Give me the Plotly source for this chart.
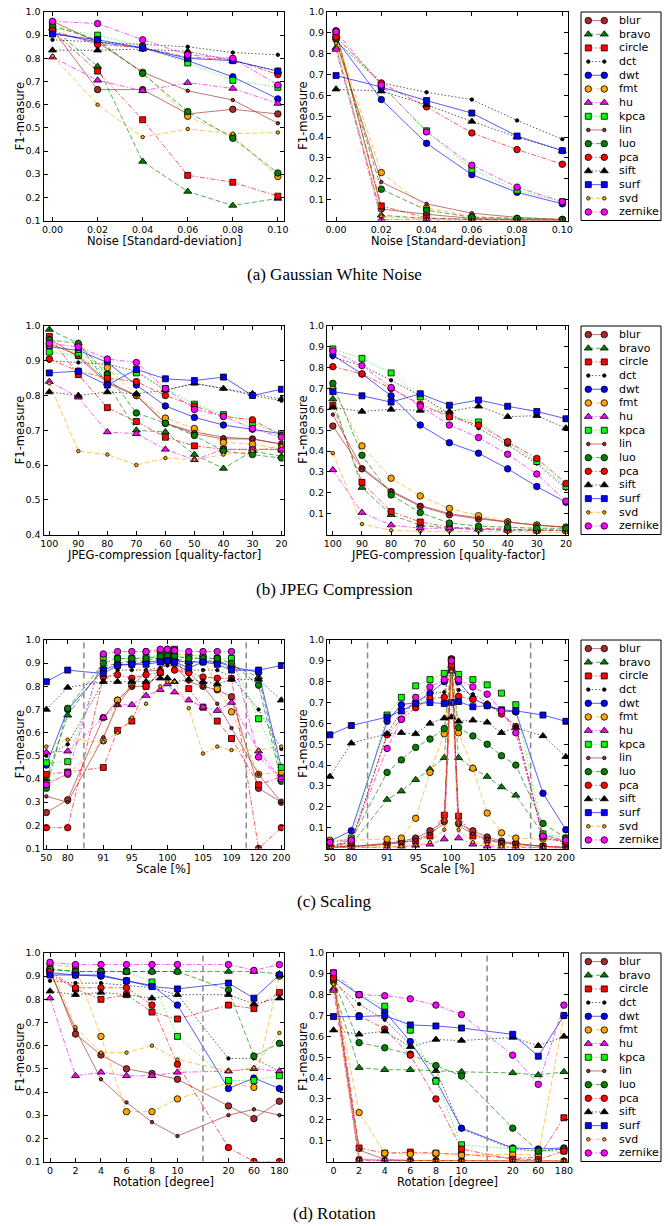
import numpy as np
import plotly.graph_objects as go

W, H = 668, 1226

METHODS = ["blur", "bravo", "circle", "dct", "dwt", "fmt", "hu", "kpca",
           "lin", "luo", "pca", "sift", "surf", "svd", "zernike"]

# ---------------- data ----------------
noise_x = [0.00, 0.02, 0.04, 0.06, 0.08, 0.10]
noise_ticks = [0.00, 0.02, 0.04, 0.06, 0.08, 0.10]

noise_left = {
    "blur":    [0.925, 0.665, 0.665, 0.56, 0.58, 0.56],
    "bravo":   [0.93, 0.765, 0.355, 0.225, 0.165, 0.195],
    "circle":  [0.915, 0.745, 0.535, 0.295, 0.265, 0.205],
    "dct":     [0.88, 0.87, 0.86, 0.85, 0.825, 0.815],
    "dwt":     [0.91, 0.87, 0.845, 0.79, 0.72, 0.625],
    "fmt":     [0.95, 0.87, 0.74, 0.55, 0.465, 0.29],
    "hu":      [0.805, 0.705, 0.66, 0.695, 0.67, 0.605],
    "kpca":    [0.93, 0.90, 0.85, 0.78, 0.705, 0.675],
    "lin":     [0.96, 0.87, 0.74, 0.66, 0.62, 0.52],
    "luo":     [0.94, 0.88, 0.735, 0.57, 0.455, 0.305],
    "pca":     [0.92, 0.86, 0.845, 0.805, 0.795, 0.73],
    "sift":    [0.835, 0.835, 0.84, 0.83, 0.79, 0.745],
    "surf":    [0.905, 0.88, 0.845, 0.80, 0.79, 0.745],
    "svd":     [0.81, 0.60, 0.46, 0.495, 0.475, 0.48],
    "zernike": [0.96, 0.95, 0.88, 0.815, 0.80, 0.685],
}
noise_right = {
    "blur":    [0.91, 0.055, 0.03, 0.01, 0.005, 0.003],
    "bravo":   [0.83, 0.025, 0.01, 0.005, 0.002, 0.0],
    "circle":  [0.905, 0.07, 0.012, 0.005, 0.002, 0.0],
    "dct":     [0.86, 0.66, 0.615, 0.58, 0.48, 0.39],
    "dwt":     [0.87, 0.58, 0.37, 0.22, 0.135, 0.08],
    "fmt":     [0.88, 0.23, 0.06, 0.02, 0.01, 0.005],
    "hu":      [0.82, 0.005, 0.002, 0.0, 0.0, 0.0],
    "kpca":    [0.89, 0.65, 0.43, 0.245, 0.145, 0.09],
    "lin":     [0.86, 0.185, 0.08, 0.035, 0.015, 0.005],
    "luo":     [0.87, 0.15, 0.05, 0.015, 0.01, 0.005],
    "pca":     [0.88, 0.66, 0.545, 0.42, 0.34, 0.27],
    "sift":    [0.63, 0.62, 0.555, 0.475, 0.40, 0.335],
    "surf":    [0.695, 0.64, 0.575, 0.515, 0.405, 0.335],
    "svd":     [0.85, 0.02, 0.005, 0.0, 0.0, 0.0],
    "zernike": [0.905, 0.65, 0.425, 0.265, 0.16, 0.09],
}

jpeg_x = [100, 90, 80, 70, 60, 50, 40, 30, 20]
jpeg_ticks = [100, 90, 80, 70, 60, 50, 40, 30, 20]

jpeg_left = {
    "blur":    [0.95, 0.915, 0.84, 0.80, 0.72, 0.69, 0.675, 0.675, 0.66],
    "bravo":   [0.99, 0.95, 0.835, 0.70, 0.695, 0.63, 0.59, 0.64, 0.625],
    "circle":  [0.97, 0.86, 0.765, 0.725, 0.68, 0.655, 0.645, 0.645, 0.645],
    "dct":     [0.90, 0.895, 0.89, 0.87, 0.815, 0.835, 0.82, 0.80, 0.785],
    "dwt":     [0.94, 0.93, 0.895, 0.83, 0.77, 0.737, 0.715, 0.703, 0.69],
    "fmt":     [0.945, 0.92, 0.88, 0.80, 0.735, 0.705, 0.665, 0.66, 0.645],
    "hu":      [0.84, 0.795, 0.695, 0.69, 0.645, 0.615, 0.645, 0.645, 0.645],
    "kpca":    [0.925, 0.915, 0.86, 0.865, 0.82, 0.775, 0.745, 0.72, 0.69],
    "lin":     [0.965, 0.91, 0.835, 0.80, 0.72, 0.695, 0.68, 0.675, 0.66],
    "luo":     [0.96, 0.95, 0.86, 0.75, 0.72, 0.685, 0.64, 0.63, 0.62],
    "pca":     [0.905, 0.87, 0.85, 0.84, 0.80, 0.77, 0.74, 0.73, 0.685],
    "sift":    [0.81, 0.80, 0.81, 0.805, 0.815, 0.835, 0.82, 0.805, 0.79],
    "surf":    [0.865, 0.87, 0.83, 0.875, 0.848, 0.843, 0.853, 0.80, 0.818],
    "svd":     [0.835, 0.64, 0.63, 0.60, 0.62, 0.615, 0.63, 0.64, 0.655],
    "zernike": [0.95, 0.94, 0.905, 0.895, 0.82, 0.76, 0.74, 0.705, 0.68],
}
jpeg_right = {
    "blur":    [0.52, 0.315, 0.205, 0.135, 0.095, 0.075, 0.06, 0.045, 0.035],
    "bravo":   [0.65, 0.225, 0.095, 0.045, 0.03, 0.025, 0.02, 0.02, 0.02],
    "circle":  [0.62, 0.25, 0.11, 0.06, 0.035, 0.03, 0.025, 0.02, 0.02],
    "dct":     [0.85, 0.81, 0.74, 0.665, 0.58, 0.51, 0.43, 0.34, 0.22],
    "dwt":     [0.86, 0.77, 0.665, 0.525, 0.44, 0.39, 0.315, 0.23, 0.155],
    "fmt":     [0.70, 0.425, 0.27, 0.185, 0.125, 0.09, 0.06, 0.045, 0.035],
    "hu":      [0.31, 0.105, 0.045, 0.03, 0.03, 0.025, 0.025, 0.025, 0.02],
    "kpca":    [0.89, 0.845, 0.775, 0.66, 0.565, 0.54, 0.44, 0.35, 0.23],
    "lin":     [0.575, 0.32, 0.21, 0.14, 0.10, 0.08, 0.06, 0.045, 0.035],
    "luo":     [0.725, 0.38, 0.19, 0.105, 0.055, 0.04, 0.035, 0.03, 0.03],
    "pca":     [0.805, 0.77, 0.70, 0.625, 0.565, 0.525, 0.445, 0.365, 0.245],
    "sift":    [0.61, 0.59, 0.60, 0.595, 0.59, 0.615, 0.565, 0.57, 0.51],
    "surf":    [0.685, 0.665, 0.635, 0.675, 0.62, 0.645, 0.615, 0.59, 0.555],
    "svd":     [0.39, 0.05, 0.02, 0.015, 0.015, 0.015, 0.012, 0.012, 0.01],
    "zernike": [0.88, 0.81, 0.705, 0.615, 0.525, 0.465, 0.385, 0.29, 0.16],
}

scale_x = [50, 80, 91, 93, 95, 97, 99, 100, 101, 103, 105, 107, 109, 120, 200]
scale_ticks = [50, 80, 91, 95, 100, 105, 109, 120, 200]
scale_marks = [85, 115]

scale_left = {
    "blur":    [0.255, 0.31, 0.665, 0.74, 0.80, 0.80, 0.86, 0.96, 0.90, 0.86, 0.80, 0.785, 0.755, 0.36, 0.30],
    "bravo":   [0.40, 0.675, 0.885, 0.90, 0.91, 0.91, 0.925, 0.925, 0.92, 0.905, 0.91, 0.91, 0.89, 0.84, 0.42],
    "circle":  [0.42, 0.43, 0.45, 0.61, 0.65, 0.80, 0.86, 0.94, 0.96, 0.79, 0.71, 0.65, 0.575, 0.375, 0.41],
    "dct":     [0.50, 0.55, 0.82, 0.87, 0.87, 0.87, 0.88, 0.89, 0.89, 0.87, 0.87, 0.87, 0.84, 0.70, 0.53],
    "dwt":     [0.46, 0.70, 0.87, 0.895, 0.895, 0.905, 0.91, 0.915, 0.91, 0.905, 0.905, 0.905, 0.885, 0.86, 0.45],
    "fmt":     [0.38, 0.42, 0.565, 0.74, 0.81, 0.95, 0.95, 0.95, 0.94, 0.935, 0.93, 0.79, 0.69, 0.42, 0.43],
    "hu":      [0.515, 0.52, 0.665, 0.72, 0.72, 0.76, 0.785, 0.81, 0.775, 0.74, 0.71, 0.695, 0.73, 0.52, 0.40],
    "kpca":    [0.47, 0.475, 0.925, 0.92, 0.92, 0.925, 0.935, 0.935, 0.93, 0.925, 0.925, 0.92, 0.92, 0.66, 0.45],
    "lin":     [0.325, 0.30, 0.58, 0.72, 0.80, 0.865, 0.87, 0.92, 0.89, 0.82, 0.80, 0.725, 0.62, 0.42, 0.30],
    "luo":     [0.36, 0.705, 0.90, 0.92, 0.92, 0.92, 0.93, 0.93, 0.93, 0.92, 0.92, 0.92, 0.90, 0.805, 0.39],
    "pca":     [0.19, 0.19, 0.84, 0.85, 0.835, 0.85, 0.86, 0.91, 0.87, 0.86, 0.84, 0.835, 0.835, 0.10, 0.19],
    "sift":    [0.70, 0.795, 0.82, 0.82, 0.82, 0.82, 0.835, 0.835, 0.82, 0.83, 0.82, 0.81, 0.83, 0.83, 0.74],
    "surf":    [0.82, 0.87, 0.855, 0.89, 0.895, 0.895, 0.905, 0.91, 0.905, 0.88, 0.905, 0.895, 0.87, 0.87, 0.89],
    "svd":     [0.54, 0.57, 0.56, 0.60, 0.665, 0.725, 0.80, 0.82, 0.82, 0.705, 0.51, 0.54, 0.525, 0.525, 0.54],
    "zernike": [0.375, 0.425, 0.94, 0.95, 0.95, 0.95, 0.96, 0.96, 0.955, 0.95, 0.95, 0.95, 0.95, 0.495, 0.40],
}
scale_right = {
    "blur":    [0.005, 0.01, 0.025, 0.035, 0.05, 0.085, 0.13, 0.91, 0.12, 0.085, 0.055, 0.035, 0.025, 0.01, 0.005],
    "bravo":   [0.005, 0.02, 0.235, 0.275, 0.33, 0.38, 0.435, 0.86, 0.435, 0.385, 0.345, 0.295, 0.255, 0.07, 0.03],
    "circle":  [0.01, 0.01, 0.02, 0.03, 0.035, 0.06, 0.16, 0.905, 0.155, 0.06, 0.04, 0.025, 0.02, 0.01, 0.005],
    "dct":     [0.01, 0.03, 0.55, 0.66, 0.69, 0.745, 0.75, 0.86, 0.76, 0.74, 0.70, 0.645, 0.59, 0.05, 0.03],
    "dwt":     [0.035, 0.085, 0.61, 0.69, 0.70, 0.745, 0.80, 0.87, 0.80, 0.72, 0.685, 0.66, 0.655, 0.265, 0.09],
    "fmt":     [0.04, 0.04, 0.045, 0.05, 0.145, 0.365, 0.55, 0.87, 0.555, 0.385, 0.17, 0.075, 0.05, 0.045, 0.04],
    "hu":      [0.005, 0.005, 0.005, 0.01, 0.015, 0.02, 0.045, 0.85, 0.05, 0.02, 0.01, 0.005, 0.005, 0.005, 0.0],
    "kpca":    [0.03, 0.05, 0.64, 0.725, 0.78, 0.81, 0.84, 0.90, 0.835, 0.81, 0.785, 0.745, 0.69, 0.07, 0.05],
    "lin":     [0.005, 0.008, 0.02, 0.03, 0.04, 0.07, 0.12, 0.89, 0.11, 0.07, 0.045, 0.03, 0.02, 0.01, 0.005],
    "luo":     [0.01, 0.04, 0.365, 0.425, 0.485, 0.525, 0.575, 0.87, 0.58, 0.54, 0.50, 0.445, 0.40, 0.12, 0.05],
    "pca":     [0.01, 0.03, 0.545, 0.62, 0.675, 0.72, 0.725, 0.88, 0.73, 0.715, 0.69, 0.645, 0.585, 0.055, 0.03],
    "sift":    [0.345, 0.505, 0.55, 0.555, 0.55, 0.60, 0.625, 0.63, 0.61, 0.615, 0.605, 0.555, 0.58, 0.54, 0.44],
    "surf":    [0.545, 0.59, 0.63, 0.66, 0.695, 0.70, 0.695, 0.70, 0.705, 0.68, 0.685, 0.665, 0.66, 0.64, 0.61],
    "svd":     [0.005, 0.005, 0.01, 0.01, 0.015, 0.03, 0.09, 0.85, 0.09, 0.03, 0.02, 0.01, 0.01, 0.005, 0.0],
    "zernike": [0.03, 0.04, 0.48, 0.62, 0.725, 0.775, 0.81, 0.90, 0.81, 0.775, 0.74, 0.66, 0.555, 0.06, 0.04],
}

rot_x = [0, 2, 4, 6, 8, 10, 20, 60, 180]
rot_ticks = [0, 2, 4, 6, 8, 10, 20, 60, 180]
rot_marks = [15]

rot_left = {
    "blur":    [0.93, 0.65, 0.56, 0.50, 0.48, 0.455, 0.34, 0.285, 0.36],
    "bravo":   [0.93, 0.92, 0.92, 0.92, 0.92, 0.92, 0.92, 0.92, 0.91],
    "circle":  [0.91, 0.845, 0.80, 0.82, 0.745, 0.715, 0.775, 0.76, 0.83],
    "dct":     [0.88, 0.87, 0.87, 0.86, 0.85, 0.82, 0.545, 0.545, 0.49],
    "dwt":     [0.915, 0.905, 0.90, 0.88, 0.86, 0.775, 0.415, 0.46, 0.415],
    "fmt":     [0.95, 0.94, 0.64, 0.315, 0.315, 0.37, 0.44, 0.42, 0.90],
    "hu":      [0.805, 0.47, 0.485, 0.47, 0.47, 0.485, 0.49, 0.50, 0.49],
    "kpca":    [0.93, 0.92, 0.92, 0.92, 0.875, 0.64, 0.45, 0.45, 0.47],
    "lin":     [0.92, 0.67, 0.455, 0.355, 0.27, 0.21, 0.30, 0.325, 0.30],
    "luo":     [0.93, 0.92, 0.92, 0.92, 0.92, 0.92, 0.84, 0.555, 0.61],
    "pca":     [0.92, 0.85, 0.85, 0.85, 0.775, 0.52, 0.16, 0.10, 0.10],
    "sift":    [0.835, 0.82, 0.83, 0.82, 0.805, 0.82, 0.82, 0.78, 0.805],
    "surf":    [0.905, 0.905, 0.905, 0.88, 0.855, 0.845, 0.87, 0.805, 0.905],
    "svd":     [0.95, 0.68, 0.57, 0.57, 0.60, 0.54, 0.49, 0.505, 0.655],
    "zernike": [0.96, 0.95, 0.95, 0.95, 0.95, 0.95, 0.95, 0.925, 0.95],
}
rot_right = {
    "blur":    [0.87, 0.01, 0.005, 0.005, 0.005, 0.003, 0.002, 0.002, 0.002],
    "bravo":   [0.83, 0.45, 0.44, 0.44, 0.435, 0.43, 0.425, 0.415, 0.43],
    "circle":  [0.905, 0.065, 0.04, 0.045, 0.04, 0.035, 0.015, 0.02, 0.21],
    "dct":     [0.86, 0.755, 0.68, 0.56, 0.44, 0.155, 0.06, 0.05, 0.06],
    "dwt":     [0.885, 0.80, 0.72, 0.575, 0.39, 0.16, 0.065, 0.06, 0.065],
    "fmt":     [0.86, 0.235, 0.04, 0.035, 0.04, 0.03, 0.035, 0.03, 0.70],
    "hu":      [0.82, 0.005, 0.003, 0.002, 0.002, 0.002, 0.002, 0.002, 0.002],
    "kpca":    [0.89, 0.80, 0.745, 0.63, 0.385, 0.08, 0.06, 0.05, 0.05],
    "lin":     [0.86, 0.055, 0.01, 0.005, 0.005, 0.003, 0.002, 0.002, 0.002],
    "luo":     [0.87, 0.57, 0.545, 0.515, 0.46, 0.41, 0.16, 0.05, 0.06],
    "pca":     [0.88, 0.70, 0.635, 0.51, 0.30, 0.06, 0.01, 0.01, 0.05],
    "sift":    [0.63, 0.61, 0.625, 0.55, 0.585, 0.58, 0.595, 0.555, 0.60],
    "surf":    [0.695, 0.695, 0.70, 0.655, 0.65, 0.64, 0.61, 0.505, 0.70],
    "svd":     [0.85, 0.01, 0.01, 0.005, 0.005, 0.005, 0.005, 0.005, 0.005],
    "zernike": [0.905, 0.80, 0.795, 0.78, 0.75, 0.705, 0.51, 0.37, 0.75],
}

captions = ["(a) Gaussian White Noise", "(b) JPEG Compression", "(c) Scaling", "(d) Rotation"]
x_titles = ["Noise [Standard-deviation]", "JPEG-compression [quality-factor]",
            "Scale [%]", "Rotation [degree]"]
y_title = "F1-measure"

# ---------------- axis transforms (non-linear display axes) ----------------
def scale_pos(v):
    return np.interp(v, [50, 80, 91, 109, 120, 200], [83, 86, 91, 109, 112.8, 116])

def rot_pos(v):
    return np.interp(v, [0, 10, 20, 60, 180], [0, 5, 7, 8, 9])

def ident(v):
    return np.asarray(v, dtype=float)

# ---------------- styles ----------------
BROWN, GREEN, RED, BLACK = "#A52A2A", "#008000", "#FF0000", "#000000"
BLUE, ORANGE, MAGENTA, LIME = "#0000FF", "#FFA500", "#FF00FF", "#00FF00"
DASH = "5px,2.5px"
DASHDOT = "5px,2px,1.5px,2px"
DOT = "1.5px,2px"
STYLE = {
    "blur":    (BROWN, "solid", "circle", 6.5),
    "bravo":   (GREEN, DASH, "triangle-up", 7),
    "circle":  (RED, DASHDOT, "square", 6),
    "dct":     (BLACK, DOT, "circle", 3.5),
    "dwt":     (BLUE, "solid", "circle", 6.5),
    "fmt":     (ORANGE, DASH, "circle", 6.5),
    "hu":      (MAGENTA, DASHDOT, "triangle-up", 7),
    "kpca":    (LIME, DOT, "square", 6),
    "lin":     (BROWN, "solid", "circle", 3.5),
    "luo":     (GREEN, DASH, "circle", 6.5),
    "pca":     (RED, DASHDOT, "circle", 6.5),
    "sift":    (BLACK, DOT, "triangle-up", 7),
    "surf":    (BLUE, "solid", "square", 6),
    "svd":     (ORANGE, DASH, "circle", 3.5),
    "zernike": (MAGENTA, DASHDOT, "circle", 6.5),
}

def rgba(hexc, a):
    h = hexc.lstrip("#")
    r, g, b = int(h[0:2], 16), int(h[2:4], 16), int(h[4:6], 16)
    return f"rgba({r},{g},{b},{a})"

# ---------------- layout geometry (pixels) ----------------
ROW_TOP = [12, 326, 640, 953]
AX_H = 208.5
COL_X = [(43.5, 283.5), (327, 568)]
LEG_X = (581, 661)
CAPTION_Y = [274, 589, 901, 1213]

def px(x):
    return x / W

def py(y):
    return 1 - y / H

rows = [
    dict(x=noise_x, tr=ident, ticks=noise_ticks, ticktext=[f"{t:.2f}" for t in noise_ticks],
         xrange=[-0.004, 0.1025], data=[noise_left, noise_right], yl=[0.1, 1.0], marks=[]),
    dict(x=jpeg_x, tr=ident, ticks=jpeg_ticks, ticktext=[str(t) for t in jpeg_ticks],
         xrange=[102, 19.3], data=[jpeg_left, jpeg_right], yl=[0.4, 1.0], marks=[]),
    dict(x=scale_x, tr=scale_pos, ticks=scale_ticks, ticktext=[str(t) for t in scale_ticks],
         xrange=[82.6, 116.3], data=[scale_left, scale_right], yl=[0.1, 1.0], marks=scale_marks),
    dict(x=rot_x, tr=rot_pos, ticks=rot_ticks, ticktext=[str(t) for t in rot_ticks],
         xrange=[-0.255, 9.16], data=[rot_left, rot_right], yl=[0.1, 1.0], marks=rot_marks),
]

fig = go.Figure()
layout = dict(width=W, height=H, margin=dict(l=0, r=0, t=0, b=0),
              paper_bgcolor="white", plot_bgcolor="white", showlegend=False,
              template="none")
shapes, annotations = [], []

TICKFONT = dict(family="DejaVu Sans", size=9.5, color="black")
TITLEFONT = dict(family="DejaVu Sans", size=11.5, color="black")

axis_common = dict(showline=True, linecolor="black", linewidth=1, mirror="ticks",
                   ticks="inside", ticklen=4, tickwidth=1, tickcolor="black",
                   showgrid=False, zeroline=False, tickfont=TICKFONT, fixedrange=True,
                   tickangle=0)

k = 0
for r, row in enumerate(rows):
    top = ROW_TOP[r]
    bot = top + AX_H
    xpos = row["tr"](row["x"])
    for c in range(2):
        k += 1
        xa, ya = f"x{k}", f"y{k}"
        x0, x1 = COL_X[c]
        ylo = row["yl"][0] if c == 0 else 0.0
        ytv = [round(v, 1) for v in np.arange(row["yl"][0] if c == 0 else 0.1, 1.0001, 0.1)]
        layout[f"xaxis{k}"] = dict(axis_common, domain=[px(x0), px(x1)], anchor=ya,
                                   range=row["xrange"], tickmode="array",
                                   tickvals=list(row["tr"](row["ticks"])),
                                   ticktext=row["ticktext"])
        layout[f"yaxis{k}"] = dict(axis_common, domain=[py(bot), py(top)], anchor=xa,
                                   range=[ylo, 1.0], tickmode="array", tickvals=ytv,
                                   ticktext=[f"{v:.1f}" for v in ytv])
        for m in METHODS:
            col, dash, sym, size = STYLE[m]
            fig.add_trace(go.Scatter(
                x=xpos, y=row["data"][c][m], mode="lines+markers",
                line=dict(color=rgba(col, 0.65), width=1, dash=dash),
                marker=dict(symbol=sym, size=size, color=col,
                            line=dict(color="black", width=0.8)),
                xaxis=xa, yaxis=ya, hoverinfo="skip", showlegend=False))
        for mv in row["marks"]:
            xv = float(row["tr"](mv))
            shapes.append(dict(type="line", xref=xa, yref=f"{ya} domain", x0=xv, x1=xv,
                               y0=0, y1=1, line=dict(color="#888888", width=1.5, dash="6px,4px")))
        # axis titles
        annotations.append(dict(text=y_title, xref="paper", yref="paper",
                                x=px(x0 - 23.5), y=py((top + bot) / 2), textangle=-90,
                                showarrow=False, font=TITLEFONT, xanchor="center", yanchor="middle"))
        annotations.append(dict(text=x_titles[r], xref="paper", yref="paper",
                                x=px((x0 + x1) / 2), y=py(bot + 20.5), showarrow=False,
                                font=TITLEFONT, xanchor="center", yanchor="middle"))
    # legend (drawn on its own hidden axes)
    k_leg = 8 + r + 1
    lx, ly = f"x{k_leg}", f"y{k_leg}"
    layout[f"xaxis{k_leg}"] = dict(domain=[px(LEG_X[0]), px(LEG_X[1])], range=[0, 80],
                                   visible=False, anchor=ly, fixedrange=True)
    layout[f"yaxis{k_leg}"] = dict(domain=[py(bot), py(top)], range=[AX_H, 0],
                                   visible=False, anchor=lx, fixedrange=True)
    for i, m in enumerate(METHODS):
        col, dash, sym, size = STYLE[m]
        yy = 8.6 + 13.67 * i
        fig.add_trace(go.Scatter(
            x=[7.3, 23.3], y=[yy, yy], mode="lines+markers",
            line=dict(color=rgba(col, 0.65), width=1, dash=dash),
            marker=dict(symbol=sym, size=size, color=col, line=dict(color="black", width=0.8)),
            xaxis=lx, yaxis=ly, hoverinfo="skip", showlegend=False, cliponaxis=False))
        annotations.append(dict(text=m, xref=lx, yref=ly, x=35.5, y=yy, showarrow=False,
                                xanchor="left", yanchor="middle",
                                font=dict(family="DejaVu Sans", size=11, color="black")))
    shapes.append(dict(type="rect", xref="paper", yref="paper",
                       x0=px(LEG_X[0]), x1=px(LEG_X[1]), y0=py(bot), y1=py(top),
                       line=dict(color="black", width=1), fillcolor="rgba(0,0,0,0)"))
    annotations.append(dict(text=captions[r], xref="paper", yref="paper", x=0.5,
                            y=py(CAPTION_Y[r]), showarrow=False, xanchor="center",
                            yanchor="middle",
                            font=dict(family="Liberation Serif", size=17, color="black")))

layout["shapes"] = shapes
layout["annotations"] = annotations
fig.update_layout(**layout)
fig.write_html("out.html")
